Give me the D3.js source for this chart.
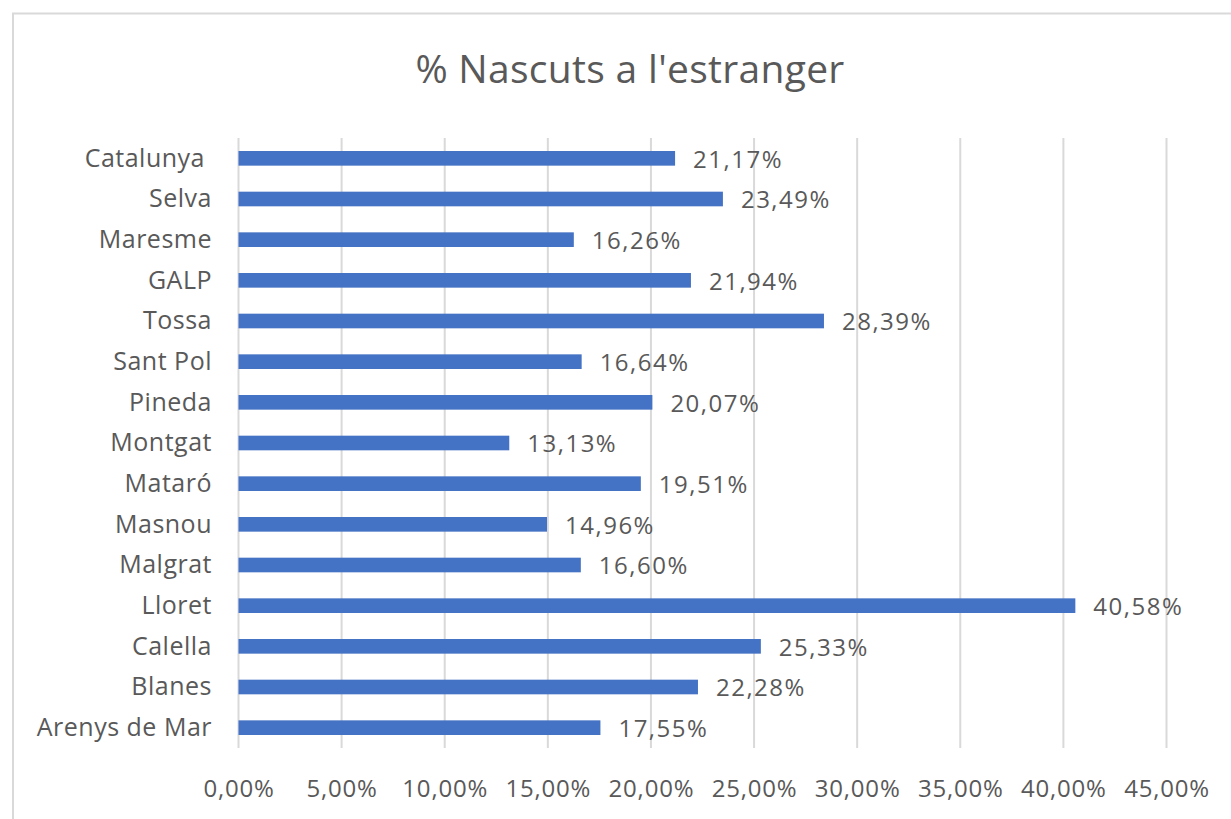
<!DOCTYPE html>
<html><head><meta charset="utf-8">
<script src="https://cdn.jsdelivr.net/npm/d3@7"></script>
<style>
html,body{margin:0;padding:0;background:#fff;}
svg text{font-family:"Open Sans",sans-serif;fill:#595959;}
</style></head>
<body><svg id="c" width="1231" height="819"></svg>
<script>
const categories = ["Catalunya ","Selva","Maresme","GALP","Tossa","Sant Pol","Pineda","Montgat","Mataró","Masnou","Malgrat","Lloret","Calella","Blanes","Arenys de Mar"];
const values = [21.17,23.49,16.26,21.94,28.39,16.64,20.07,13.13,19.51,14.96,16.60,40.58,25.33,22.28,17.55];
const ticks = [0,5,10,15,20,25,30,35,40,45];
const title = "% Nascuts a l'estranger";

const svg = d3.select("#c");
const fmt = v => v.toFixed(2).replace(".", ",") + "%";

svg.append("rect").attr("x",13).attr("y",13.5).attr("width",1300).attr("height",900)
  .attr("fill","#fff").attr("stroke","#D9D9D9").attr("stroke-width",2);

svg.append("text").attr("x",630).attr("y",83).attr("text-anchor","middle")
  .attr("font-size",39).style("letter-spacing","0.3px").text(title);

const x = d3.scaleLinear().domain([0,45]).range([238.5,1166.5]);
const y = d3.scaleBand().domain(categories).range([138,748]).paddingInner(0.64).paddingOuter(0.32);

const g = svg.append("g");
g.selectAll("line.grid").data(ticks).join("line").attr("class","grid")
  .attr("x1",d=>x(d)).attr("x2",d=>x(d)).attr("y1",138).attr("y2",748)
  .attr("stroke","#D9D9D9").attr("stroke-width",2);

const xAxis = d3.axisBottom(x).tickValues(ticks).tickFormat(d=>fmt(d)).tickSize(0).tickPadding(0);
const ax = svg.append("g").attr("transform","translate(0,797)").call(xAxis);
ax.select(".domain").remove();
ax.selectAll("text").attr("font-size",24).attr("fill","#595959").attr("dy","0")
  .style("letter-spacing","0.8px").style("font-family","'Open Sans',sans-serif");

const yAxis = d3.axisLeft(y).tickSize(0).tickPadding(0);
const ay = svg.append("g").attr("transform","translate(212,0)").call(yAxis);
ay.select(".domain").remove();
ay.selectAll("text").attr("font-size",25).attr("fill","#595959").attr("dy","0.33em")
  .style("white-space","pre").style("letter-spacing","0.5px").style("font-family","'Open Sans',sans-serif");

g.selectAll("rect.bar").data(values).join("rect").attr("class","bar")
  .attr("x",x(0)).attr("y",(d,i)=>y(categories[i]))
  .attr("width",d=>x(d)-x(0)).attr("height",y.bandwidth()).attr("fill","#4472C4");

g.selectAll("text.val").data(values).join("text").attr("class","val")
  .attr("x",d=>x(d)+18).attr("y",(d,i)=>y(categories[i])+y.bandwidth()/2+1)
  .attr("dy","0.35em").attr("font-size",24).style("letter-spacing","1.5px").text(d=>fmt(d));
</script></body></html>
